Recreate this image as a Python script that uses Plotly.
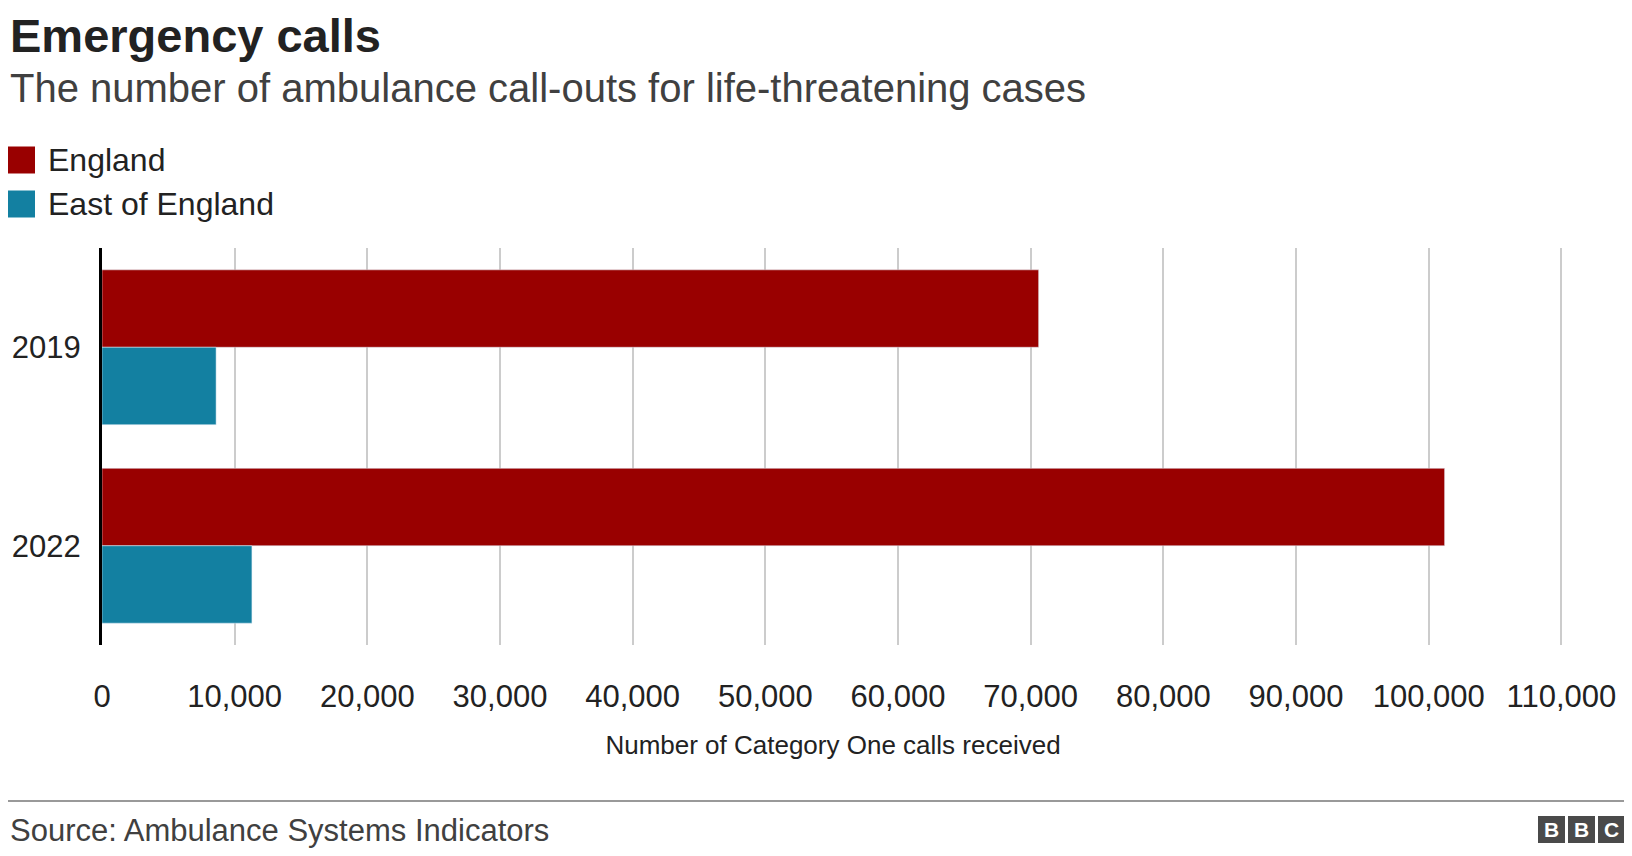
import plotly.graph_objects as go

years = ["2019", "2022"]
england = [70600, 101200]
east_of_england = [8600, 11300]
tick_vals = list(range(0, 110001, 10000))
tick_text = [f"{v:,}" for v in tick_vals]

W, H = 1632, 856
L, R, T, B = 94, 76, 240, 219
pw, ph = W - L - R, H - T - B

def px_x(x):
    return (x - L) / pw

def px_y(y):
    return (H - B - y) / ph

FONT = "Liberation Sans, Arial, sans-serif"

fig = go.Figure()
fig.add_trace(go.Bar(y=years, x=england, name="England", orientation="h",
                     marker_color="#990000"))
fig.add_trace(go.Bar(y=years, x=east_of_england, name="East of England",
                     orientation="h", marker_color="#1380A1"))

fig.update_layout(
    width=W, height=H, margin=dict(l=L, r=R, t=T, b=B, autoexpand=False),
    paper_bgcolor="white", plot_bgcolor="white",
    barmode="group", bargap=0.22, bargroupgap=0,
    showlegend=False, font=dict(family=FONT, color="#222222"),
)
fig.update_xaxes(range=[0, 110200], tickvals=tick_vals, ticktext=tick_text,
                 tickfont=dict(size=31), showgrid=True, gridcolor="#cccccc",
                 gridwidth=1.5, zeroline=False, ticks="", ticklabelstandoff=30,
                 automargin=False,
                 title=dict(text="Number of Category One calls received",
                            font=dict(size=26), standoff=22))
fig.update_yaxes(autorange="reversed", tickfont=dict(size=31), showline=True,
                 linecolor="black", linewidth=3, ticks="", ticklabelstandoff=12,
                 automargin=False)

ann = [
    ("<b>Emergency calls</b>", 0, 28, 47, "#222222"),
    ("The number of ambulance call-outs for life-threatening cases", 0, 80, 40, "#404040"),
    ("England", 38, 152, 32, "#222222"),
    ("East of England", 38, 196, 32, "#222222"),
    ("Source: Ambulance Systems Indicators", 0, 822, 31, "#404040"),
]
for text, x, y, size, col in ann:
    fig.add_annotation(text=text, x=px_x(x), y=px_y(y), xref="paper", yref="paper",
                       xanchor="left", yanchor="middle", showarrow=False,
                       font=dict(size=size, color=col, family=FONT))

for y, c in [(152, "#990000"), (196, "#1380A1")]:
    fig.add_shape(type="rect", xref="paper", yref="paper", x0=px_x(0), x1=px_x(27),
                  y0=px_y(y - 13.5), y1=px_y(y + 13.5), fillcolor=c, line_width=0)

fig.add_shape(type="line", xref="paper", yref="paper", x0=px_x(0), x1=px_x(W),
              y0=px_y(793), y1=px_y(793), line=dict(color="#777777", width=1.5))

for i, letter in enumerate("BBC"):
    x0 = W - 102 + i * 30
    fig.add_shape(type="rect", xref="paper", yref="paper", x0=px_x(x0), x1=px_x(x0 + 27),
                  y0=px_y(808), y1=px_y(835), fillcolor="#4a4a4a", line_width=0)
    fig.add_annotation(text="<b>" + letter + "</b>", x=px_x(x0 + 13.5), y=px_y(821.5),
                       xref="paper", yref="paper", showarrow=False, borderpad=0,
                       xanchor="center", yanchor="middle",
                       font=dict(size=21, color="white", family=FONT))

fig.write_html("out.html")
